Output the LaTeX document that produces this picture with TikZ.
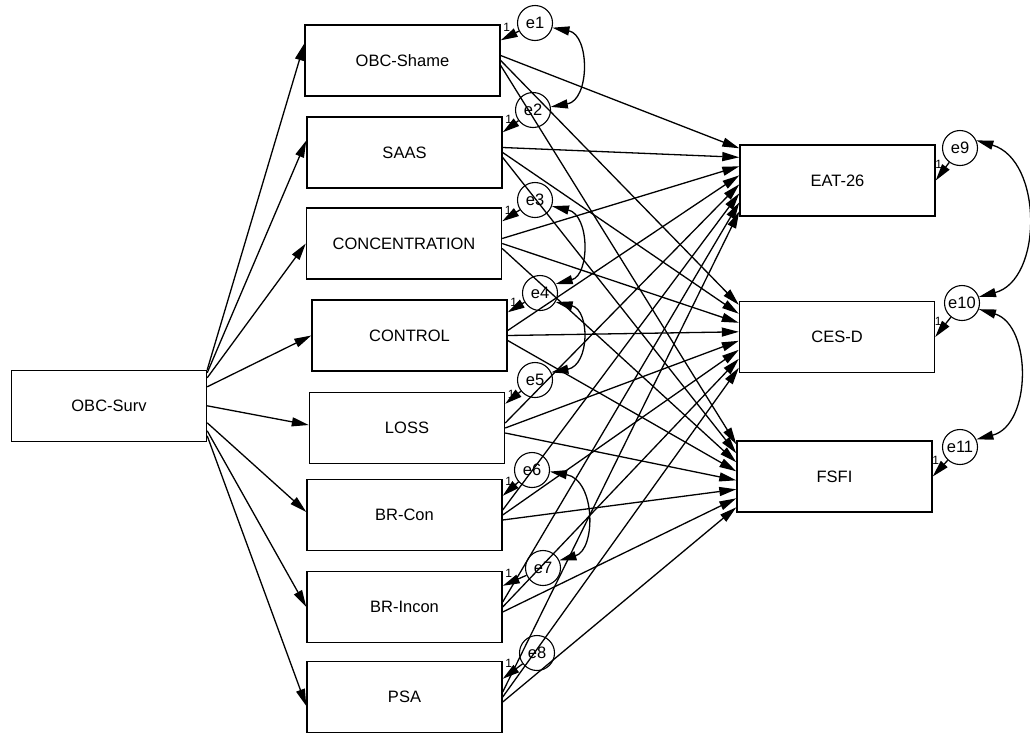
\documentclass[tikz,border=0pt]{standalone}
\usepackage{fontspec}
\setmainfont{Liberation Sans}
\usetikzlibrary{arrows.meta,calc}
\begin{document}
\begin{tikzpicture}[x=1pt,y=-1pt,
  obs/.style={draw, line width=1.4pt, minimum width=195pt, minimum height=71pt,
    inner sep=0pt, font=\fontsize{16.5}{18}\selectfont},
  err/.style={draw, circle, line width=1.1pt, minimum size=35pt, inner sep=0pt,
    font=\fontsize{16.5}{18}\selectfont},
  reg/.style={-{Triangle[length=17pt,width=9pt]}, line width=1.3pt},
  cov/.style={{Triangle[length=17pt,width=9pt]}-{Triangle[length=17pt,width=9pt]}, line width=1.3pt},
  lbl/.style={font=\fontsize{12}{13}\selectfont, inner sep=0pt}]
\useasboundingbox (0,0) rectangle (1030,734);

% exogenous variable
\node[obs] (surv) at (109,406) {OBC-Surv};

% mediators
\node[obs] (shame)   at (402.5,60.5)  {OBC-Shame};
\node[obs] (saas)    at (404.5,152.5) {SAAS};
\node[obs] (conc)    at (404,243.5)   {CONCENTRATION};
\node[obs] (ctrl)    at (409.5,335.5) {CONTROL};
\node[obs] (loss)    at (407,428)     {LOSS};
\node[obs] (brcon)   at (404.5,515)   {BR-Con};
\node[obs] (brincon) at (404.5,607)   {BR-Incon};
\node[obs] (psa)     at (404.5,697)   {PSA};

% outcomes
\node[obs] (eat)  at (837.5,180.5) {EAT-26};
\node[obs] (cesd) at (837,337)     {CES-D};
\node[obs] (fsfi) at (834.5,476.5) {FSFI};

% error terms
\node[err] (e1)  at (535,23)  {e1};
\node[err] (e2)  at (533,110) {e2};
\node[err] (e3)  at (535,200) {e3};
\node[err] (e4)  at (540,293) {e4};
\node[err] (e5)  at (535,380) {e5};
\node[err] (e6)  at (532,470) {e6};
\node[err] (e7)  at (543,568) {e7};
\node[err] (e8)  at (537,653) {e8};
\node[err] (e9)  at (960,148) {e9};
\node[err] (e10) at (962,303) {e10};
\node[err] (e11) at (960,447) {e11};

% OBC-Surv to mediators
\draw[reg] ($(surv.north east)+(0,0)$)  -- ($(shame.west)+(0,-17)$);
\draw[reg] ($(surv.north east)+(0,3)$)  -- ($(saas.west)+(0,-12)$);
\draw[reg] ($(surv.north east)+(0,8)$)  -- (conc.west);
\draw[reg] ($(surv.north east)+(0,17)$) -- (ctrl.west);
\draw[reg] ($(surv.north east)+(0,36)$) -- ($(loss.west)+(0,-3)$);
\draw[reg] ($(surv.north east)+(0,53)$) -- ($(brcon.west)+(0,-3)$);
\draw[reg] ($(surv.north east)+(0,61)$) -- (brincon.west);
\draw[reg] ($(surv.north east)+(0,66)$) -- ($(psa.west)+(0,9)$);

% mediators to outcomes
\foreach \s [count=\i from 0] in {shame,saas,conc,ctrl,loss,brcon,brincon,psa} {
  \draw[reg] ($(\s.east)+(0,-5)$) -- ($(eat.north west)+(0,4+9*\i)$);
  \draw[reg] (\s.east)            -- ($(cesd.north west)+(0,4+9*\i)$);
  \draw[reg] ($(\s.east)+(0,5)$)  -- ($(fsfi.north west)+(0,4+9*\i)$);
}

% error terms to mediators, with fixed loadings
\foreach \e/\v/\d in {e1/shame/16,e2/saas/16,e3/conc/14,e4/ctrl/13,e5/loss/12,e6/brcon/17,e7/brincon/15,e8/psa/18} {
  \draw[reg] (\e) -- ($(\v.north east)+(0,\d)$);
  \node[lbl] at ($(\v.north east)+(6,3)$) {1};
}

% error terms to outcomes
\foreach \e/\v in {e9/eat,e10/cesd,e11/fsfi} {
  \draw[reg] (\e) -- (\v.east);
  \node[lbl] at ($(\v.east)+(3,-16)$) {1};
}

% error covariances
\draw[cov] (e1.-15) .. controls (590,35) and (590,100) .. (e2.10);
\draw[cov] (e3.-20) .. controls (590,215) and (590,275) .. (e4.30);
\draw[cov] (e4.-30) .. controls (590,310) and (590,365) .. (e5.25);
\draw[cov] (e6.-5)  .. controls (596,480) and (596,550) .. (e7.25);
\draw[cov] (e9.25)  .. controls (1043,160) and (1043,280) .. (e10.20);
\draw[cov] (e10.-20) .. controls (1032,325) and (1032,425) .. (e11.25);
\end{tikzpicture}
\end{document}
